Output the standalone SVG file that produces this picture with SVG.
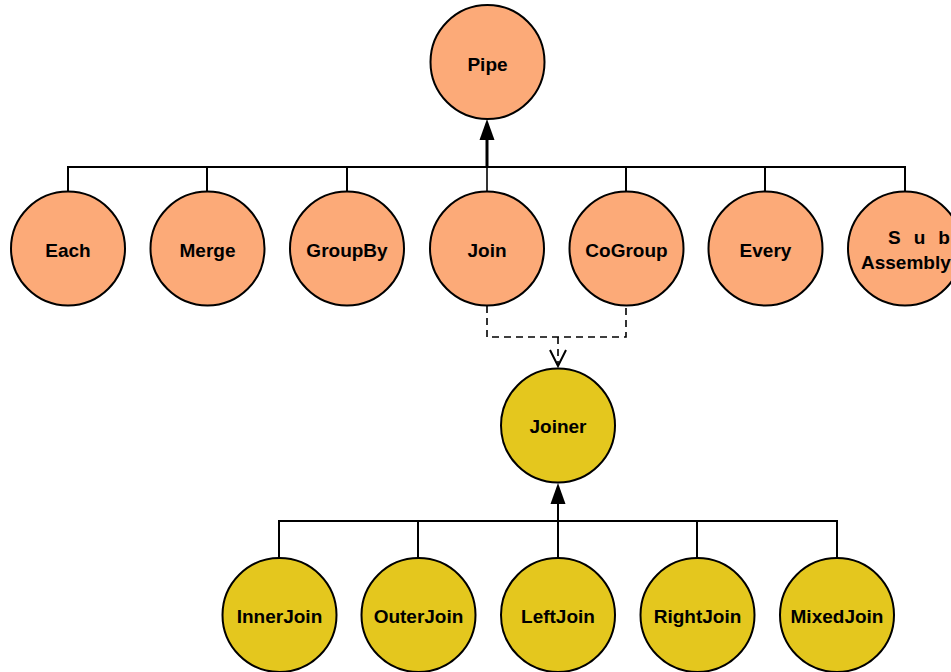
<svg xmlns="http://www.w3.org/2000/svg" width="951" height="672" viewBox="0 0 951 672">
<style>
.o{fill:#FCAA78;stroke:#000;stroke-width:2}
.y{fill:#E4C71E;stroke:#000;stroke-width:2}
.t{font-family:"Liberation Sans",Arial,sans-serif;font-weight:bold;font-size:19px;text-anchor:middle;fill:#000}
.l{fill:none;stroke:#000;stroke-width:2}
.d{fill:none;stroke:#000;stroke-width:1.6;stroke-dasharray:7,5}
</style>
<defs>
<marker id="fa" markerWidth="22" markerHeight="16" refX="0" refY="8" orient="auto" markerUnits="userSpaceOnUse" viewBox="0 0 22 16">
<path d="M0 0.5 L21 8 L0 15.5 Z" fill="#000"/>
</marker>
</defs>
<rect width="951" height="672" fill="#fff"/>
<g id="connectors">
<path class="l" d="M68 192 V167 H905 V192 M207 167 V192 M347 167 V192 M626 167 V192 M765 167 V192"/>
<line x1="487" y1="192" x2="487" y2="167" stroke="#000" stroke-width="1.6"/>
<line x1="487" y1="167" x2="487" y2="140" stroke="#000" stroke-width="3" marker-end="url(#fa)"/>
<path class="d" d="M487 306 V337 H626 V306"/>
<path class="d" d="M558 337 V366"/>
<path class="l" d="M550 350 L558 366 L566 350" stroke-width="1.6"/>
<path class="l" d="M279 558 V521 H837 V558 M418 521 V558 M697 521 V558"/>
<line x1="558" y1="558" x2="558" y2="504" stroke="#000" stroke-width="2" marker-end="url(#fa)"/>
</g>
<g id="pipe"><circle class="o" cx="487.5" cy="62" r="57"/><text class="t" x="487.5" y="71">Pipe</text></g>
<g id="each"><circle class="o" cx="68" cy="248.5" r="57"/><text class="t" x="68" y="257">Each</text></g>
<g id="merge"><circle class="o" cx="207.5" cy="248.5" r="57"/><text class="t" x="207.5" y="257">Merge</text></g>
<g id="groupby"><circle class="o" cx="347" cy="248.5" r="57"/><text class="t" x="347" y="257">GroupBy</text></g>
<g id="join"><circle class="o" cx="487" cy="248.5" r="57"/><text class="t" x="487" y="257">Join</text></g>
<g id="cogroup"><circle class="o" cx="626.5" cy="248.5" r="57"/><text class="t" x="626.5" y="257">CoGroup</text></g>
<g id="every"><circle class="o" cx="765.5" cy="248.5" r="57"/><text class="t" x="765.5" y="257">Every</text></g>
<g id="subassembly"><circle class="o" cx="905" cy="248.5" r="57"/><text class="t" style="text-anchor:start"><tspan x="888" y="244" letter-spacing="13">Sub</tspan><tspan x="861" y="268.5">Assembly</tspan></text></g>
<g id="joiner"><circle class="y" cx="558" cy="425.5" r="57"/><text class="t" x="558" y="433">Joiner</text></g>
<g id="innerjoin"><circle class="y" cx="279.5" cy="615" r="57"/><text class="t" x="279.5" y="623">InnerJoin</text></g>
<g id="outerjoin"><circle class="y" cx="418.5" cy="615" r="57"/><text class="t" x="418.5" y="623">OuterJoin</text></g>
<g id="leftjoin"><circle class="y" cx="558" cy="615" r="57"/><text class="t" x="558" y="623">LeftJoin</text></g>
<g id="rightjoin"><circle class="y" cx="697.5" cy="615" r="57"/><text class="t" x="697.5" y="623">RightJoin</text></g>
<g id="mixedjoin"><circle class="y" cx="837" cy="615" r="57"/><text class="t" x="837" y="623">MixedJoin</text></g>
</svg>
